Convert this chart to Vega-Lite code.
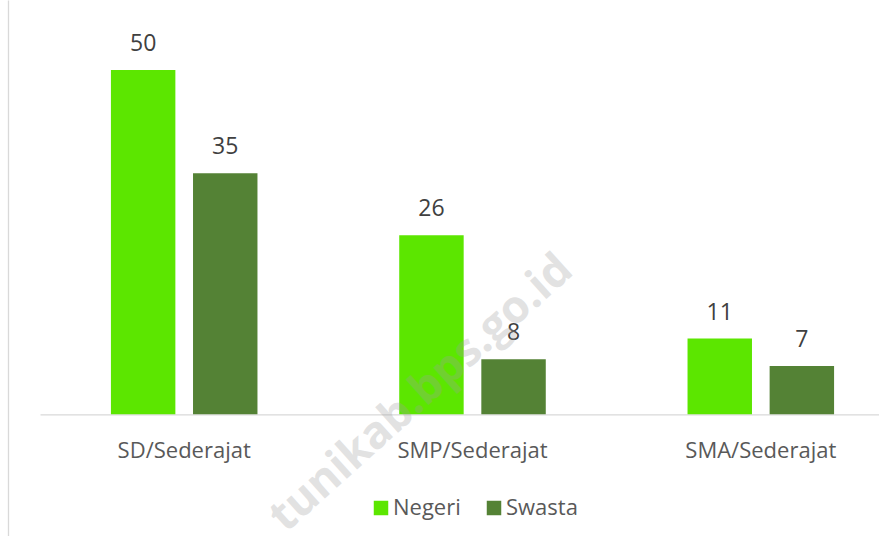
{
  "$schema": "https://vega.github.io/schema/vega-lite/v6.json",
  "autosize": "none",
  "width": 839,
  "height": 536,
  "padding": {"left": 40, "top": 0, "right": 0, "bottom": 0},
  "background": "white",
  "config": {"view": {"stroke": null}, "font": "Open Sans"},
  "data": {
    "values": [
      {"jenjang": "SD/Sederajat", "status": "Negeri", "jumlah": 50},
      {"jenjang": "SD/Sederajat", "status": "Swasta", "jumlah": 35},
      {"jenjang": "SMP/Sederajat", "status": "Negeri", "jumlah": 26},
      {"jenjang": "SMP/Sederajat", "status": "Swasta", "jumlah": 8},
      {"jenjang": "SMA/Sederajat", "status": "Negeri", "jumlah": 11},
      {"jenjang": "SMA/Sederajat", "status": "Swasta", "jumlah": 7}
    ]
  },
  "layer": [
    {
      "mark": {"type": "bar"},
      "encoding": {
        "x": {
          "field": "jenjang", "type": "nominal",
          "sort": ["SD/Sederajat", "SMP/Sederajat", "SMA/Sederajat"],
          "scale": {"range": [0, 865], "paddingInner": 0.4917, "paddingOuter": 0.246},
          "axis": {
            "orient": "bottom", "offset": -121.7, "title": null,
            "domainColor": "#d9d9d9", "domainWidth": 1.3,
            "ticks": false, "grid": false, "labelAngle": 0,
            "labelFontSize": 22, "labelColor": "#595959", "labelPadding": 26
          }
        },
        "xOffset": {
          "field": "status", "type": "nominal", "sort": ["Negeri", "Swasta"],
          "scale": {"paddingInner": 0.215, "paddingOuter": 0}
        },
        "y": {
          "field": "jumlah", "type": "quantitative",
          "scale": {"domain": [-17.67, 60.16], "nice": false, "zero": false},
          "axis": {
            "orient": "left", "offset": 32, "title": null,
            "domainColor": "#d9d9d9", "domainWidth": 1.3,
            "labels": false, "ticks": false, "grid": false
          }
        },
        "y2": {"datum": 0},
        "color": {
          "field": "status", "type": "nominal",
          "scale": {"domain": ["Negeri", "Swasta"], "range": ["#5ce600", "#548235"]},
          "legend": {
            "orient": "none", "legendX": 330, "legendY": 497,
            "direction": "horizontal", "title": null,
            "symbolType": "square", "symbolSize": 210, "symbolStrokeWidth": 0,
            "labelFontSize": 22, "labelColor": "#595959", "labelOffset": 1,
            "columnPadding": 22
          }
        }
      }
    },
    {
      "mark": {"type": "text", "dy": -19, "baseline": "alphabetic", "fontSize": 23, "color": "#404040"},
      "encoding": {
        "x": {"field": "jenjang", "type": "nominal", "sort": ["SD/Sederajat", "SMP/Sederajat", "SMA/Sederajat"]},
        "xOffset": {"field": "status", "type": "nominal", "sort": ["Negeri", "Swasta"]},
        "y": {"field": "jumlah", "type": "quantitative"},
        "text": {"field": "jumlah", "type": "quantitative"}
      }
    },
    {
      "data": {"values": [{}]},
      "mark": {"type": "text", "angle": -42, "align": "center", "baseline": "middle", "fontSize": 45, "fontWeight": "bold", "color": "#a0a0a0", "opacity": 0.3},
      "encoding": {
        "x": {"datum": "SMP/Sederajat", "bandPosition": 0.149},
        "y": {"datum": 3.1},
        "text": {"value": "tunikab.bps.go.id"}
      }
    }
  ]
}
